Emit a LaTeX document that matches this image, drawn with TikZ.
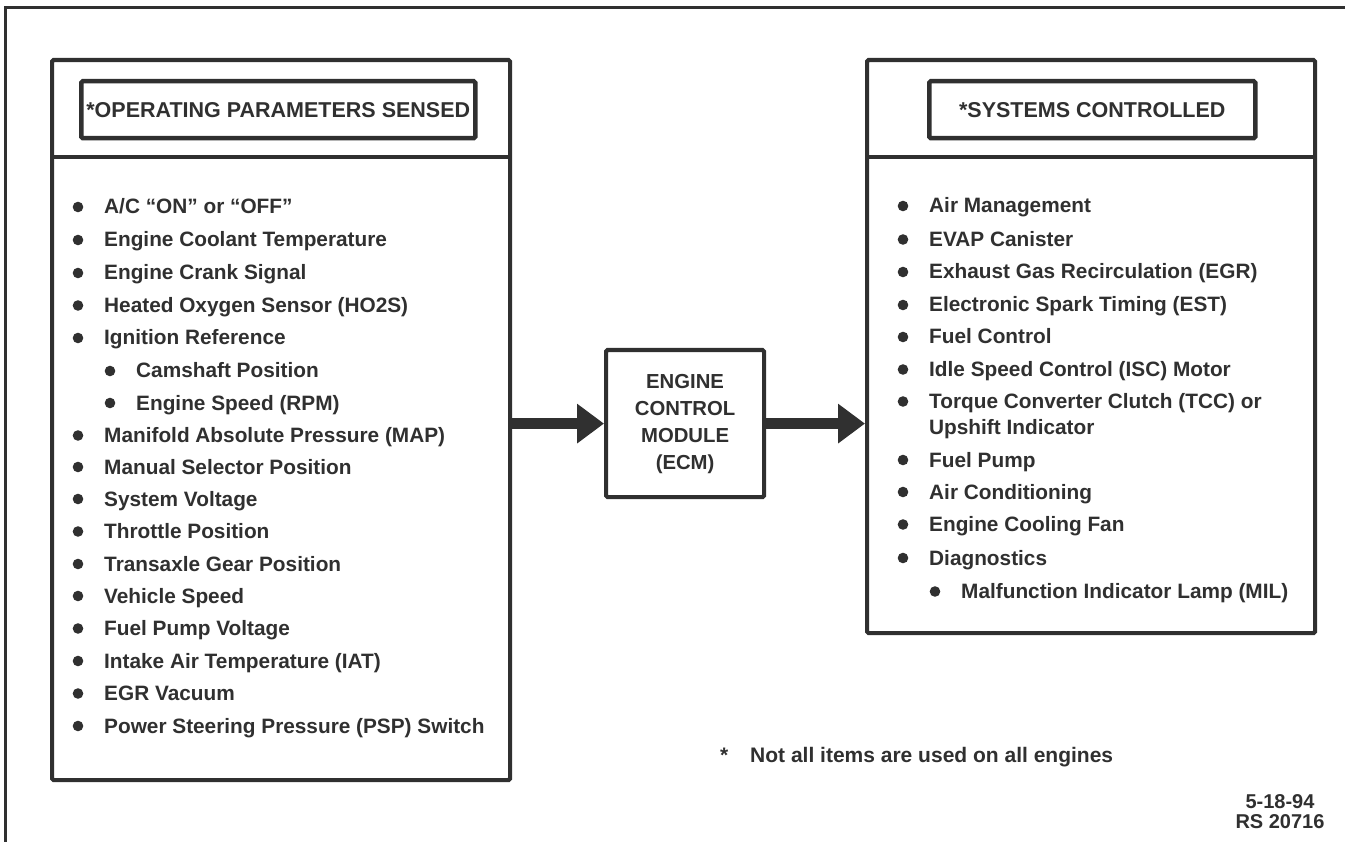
\documentclass[tikz,border=0pt]{standalone}
\usepackage{fontspec}
\setmainfont{Liberation Sans}
\usetikzlibrary{arrows.meta}
\definecolor{ink}{RGB}{48,48,48}
\newcommand\myitemfont{\fontsize{20.8}{24}\selectfont\bfseries}
\newcommand\myhdrfont{\fontsize{21.5}{25}\selectfont\bfseries}
\tikzset{
  panel/.style={draw=ink, line width=4.2pt, rectangle, inner sep=0pt, anchor=north west, rounded corners=1.5pt},
  hdr/.style={draw=ink, line width=4.5pt, rectangle, inner sep=0pt, anchor=north west, rounded corners=1.5pt, font=\myhdrfont, text=ink},
  itm/.style={anchor=base west, inner sep=0pt, font=\myitemfont, text=ink},
  bigarrow/.style={draw=ink, line width=11pt, -{Triangle[length=27pt,width=38pt]}},
  divider/.style={draw=ink, line width=4.2pt}
}
\begin{document}
\begin{tikzpicture}[x=1pt,y=-1pt]
\useasboundingbox (0,0) rectangle (1345,842);
\fill[white] (0,0) rectangle (1345,842);
% outer frame (left and top edges visible)
\draw[ink, line width=3pt] (5,860) -- (5,8) -- (1360,8);

% left panel
\node[panel, minimum width=458pt, minimum height=720pt] (lbox) at (50,58) {};
\draw[divider] (lbox.west |- 0,157) -- (lbox.east |- 0,157);
\node[hdr, minimum width=394pt, minimum height=57pt] (lhdr) at (79,79) {*OPERATING PARAMETERS SENSED};

% right panel
\node[panel, minimum width=448pt, minimum height=573pt] (rbox) at (865,58) {};
\draw[divider] (rbox.west |- 0,157) -- (rbox.east |- 0,157);
\node[hdr, minimum width=326pt, minimum height=57pt] (rhdr) at (927,79) {*SYSTEMS CONTROLLED};

% ECM
\node[panel, minimum width=158pt, minimum height=147pt, align=center, font=\fontsize{20.3}{27}\selectfont\bfseries, text=ink] (ecm) at (604,348) {ENGINE\\CONTROL\\MODULE\\(ECM)};

% arrows
\draw[bigarrow] (lbox.east |- ecm.west) -- (ecm.west);
\draw[bigarrow] (ecm.east) -- (ecm.east -| rbox.west);

% left list
\foreach \c/\x/\t [count=\i] in {
  207/78/{A/C “ON” or “OFF”},
  240/78/{Engine Coolant Temperature},
  273/78/{Engine Crank Signal},
  305.5/78/{Heated Oxygen Sensor (HO2S)},
  338/78/{Ignition Reference},
  371/110/{Camshaft Position},
  403/110/{Engine Speed (RPM)},
  435.5/78/{Manifold Absolute Pressure (MAP)},
  467/78/{Manual Selector Position},
  499/78/{System Voltage},
  531.5/78/{Throttle Position},
  564/78/{Transaxle Gear Position},
  596/78/{Vehicle Speed},
  628.5/78/{Fuel Pump Voltage},
  661/78/{Intake Air Temperature (IAT)},
  693.5/78/{EGR Vacuum},
  726/78/{Power Steering Pressure (PSP) Switch}}{
  \fill[ink] (\x,\c) circle[radius=5.3pt];
  \node[itm] (li\i) at (\x+26,\c+7) {\t};
}

% right list
\foreach \c/\x/\t [count=\i] in {
  206/903/{Air Management},
  239.5/903/{EVAP Canister},
  272/903/{Exhaust Gas Recirculation (EGR)},
  305/903/{Electronic Spark Timing (EST)},
  337/903/{Fuel Control},
  369.5/903/{Idle Speed Control (ISC) Motor},
  401.5/903/{Torque Converter Clutch (TCC) or},
  460/903/{Fuel Pump},
  492/903/{Air Conditioning},
  524.5/903/{Engine Cooling Fan},
  558/903/{Diagnostics},
  591.5/935/{Malfunction Indicator Lamp (MIL)}}{
  \fill[ink] (\x,\c) circle[radius=5.3pt];
  \node[itm] (ri\i) at (\x+26,\c+7) {\t};
}
\node[itm] (riup) at (929,435) {Upshift Indicator};

% footnote and reference
\node[itm, font=\fontsize{21}{24}\selectfont\bfseries] (star) at (720,762) {*};
\node[itm, font=\fontsize{21}{24}\selectfont\bfseries] (note) at (750,762) {Not all items are used on all engines};
\node[align=center, inner sep=0pt, font=\fontsize{20}{20}\selectfont\bfseries, text=ink] (ref) at (1280,812) {5-18-94\\RS 20716};
\end{tikzpicture}
\end{document}
